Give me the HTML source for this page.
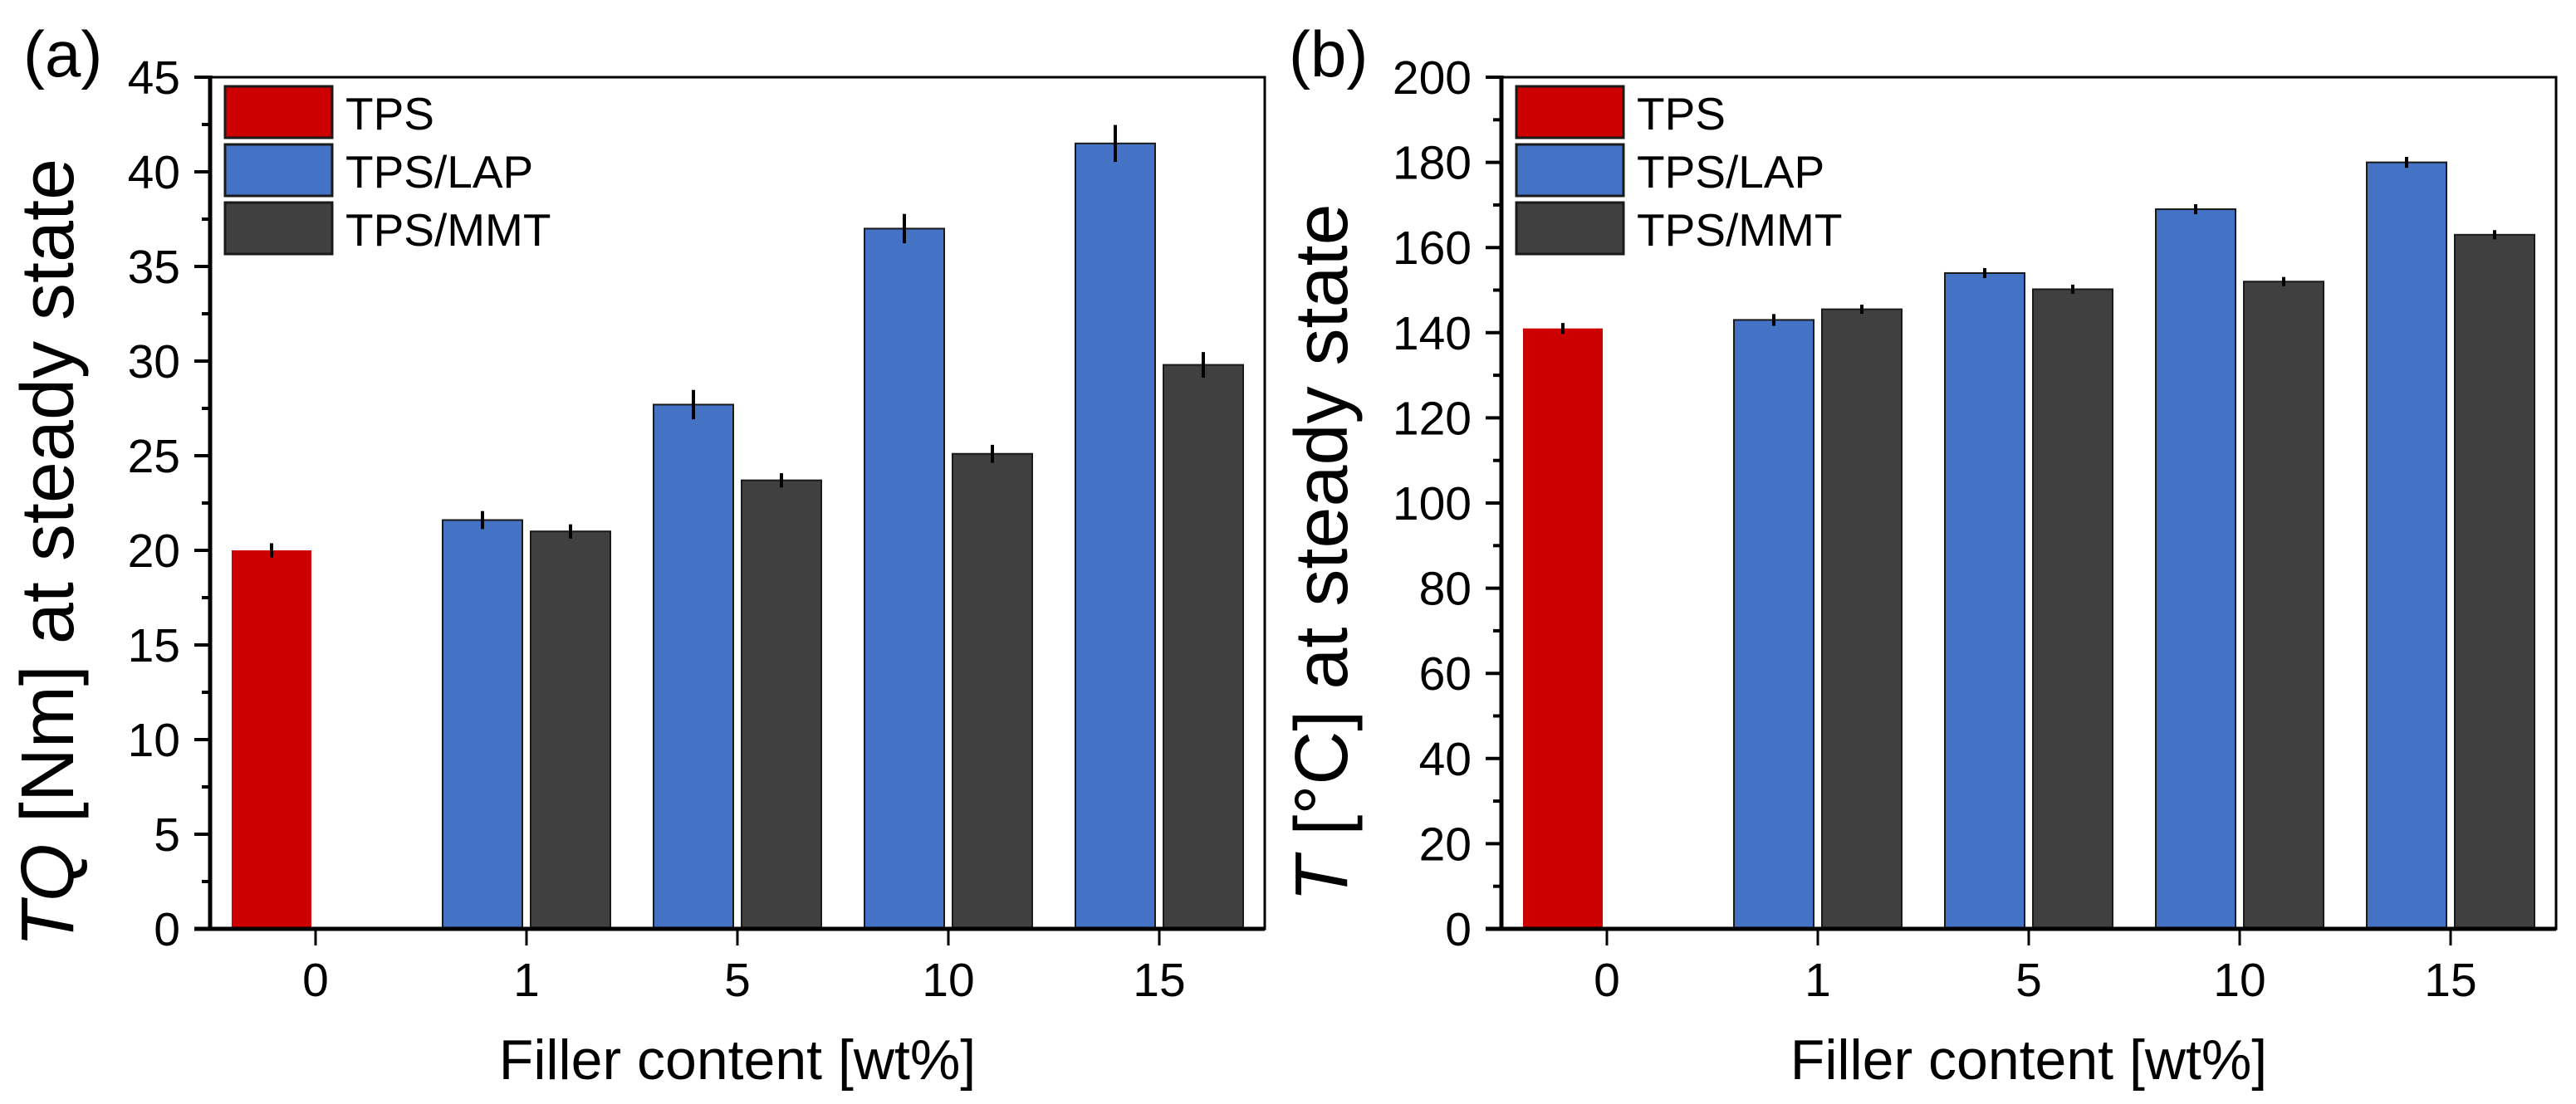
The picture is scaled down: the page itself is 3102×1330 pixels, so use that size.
<!DOCTYPE html>
<html><head><meta charset="utf-8"><style>
html,body{margin:0;padding:0;background:#fff;}
svg{display:block;font-family:"Liberation Sans",Arial,sans-serif;}
</style></head><body>
<svg id="fig" width="3102" height="1330" viewBox="0 0 3102 1330"></svg>
<script>
const categories = ["0","1","5","10","15"];
const tqTPS = [20.0, null, null, null, null];
const tqTPSerr = [0.2, 0, 0, 0, 0];
const tqLAP = [null, 21.6, 27.7, 37.0, 41.5];
const tqLAPerr = [0, 0.3, 0.6, 0.6, 0.8];
const tqMMT = [null, 21.0, 23.7, 25.1, 29.8];
const tqMMTerr = [0, 0.2, 0.2, 0.3, 0.5];
const tTPS = [141, null, null, null, null];
const tTPSerr = [0.5, 0, 0, 0, 0];
const tLAP = [null, 143, 154, 169, 180];
const tLAPerr = [0, 0.6, 0.4, 0.4, 0.5];
const tMMT = [null, 145.5, 150.2, 152, 163];
const tMMTerr = [0, 0.3, 0.3, 0.3, 0.3];
const tqTicks = [0,5,10,15,20,25,30,35,40,45];
const tTicks = [0,20,40,60,80,100,120,140,160,180,200];
const seriesNames = ["TPS","TPS/LAP","TPS/MMT"];

const NS="http://www.w3.org/2000/svg";
const svg=document.getElementById('fig');
function mk(tag,attrs,parent){const e=document.createElementNS(NS,tag);for(const k in attrs)e.setAttribute(k,attrs[k]);(parent||svg).appendChild(e);return e;}

function panel(cfg){
  const g=mk('g',{});
  
  
  const L=cfg.x0,R=cfg.x0+1270,T=93,B=1119;
  const ymax=cfg.ticks[cfg.ticks.length-1];
  const ys=v=>B-(v/ymax)*(B-T);
  const xs=i=>L+127+254*i;
  const series=[[cfg.tps,cfg.tpsErr,'#cc0000',-1],[cfg.lap,cfg.lapErr,'#4472c4',-1],[cfg.mmt,cfg.mmtErr,'#404040',1]];
  series.forEach((s,si)=>{
    s[0].forEach((v,i)=>{
      if(v==null)return;
      const x=s[3]<0?xs(i)-101:xs(i)+5;
      const r=mk('rect',{x:x,y:ys(v),width:96,height:B-ys(v),fill:s[2],stroke:si==0?'none':'#1a1a1a','stroke-width':2},g);
      
      
      const cx=x+48,e=s[1][i];
      const l=mk('line',{x1:cx,x2:cx,y1:ys(v+e)-4,y2:ys(v-e)+4,stroke:'#000','stroke-width':4},g);
      
      
    });
  });
  const f=mk('rect',{x:L,y:T,width:R-L,height:B-T,fill:'none',stroke:'#000','stroke-width':3},g);
  
  
  mk('line',{x1:L,x2:L,y1:T-2,y2:B+2,stroke:'#000','stroke-width':5},g);
  mk('line',{x1:L-19,x2:R,y1:B,y2:B,stroke:'#000','stroke-width':5},g);
  cfg.ticks.forEach((t,k)=>{
    const y=ys(t);
    mk('line',{x1:L-19,x2:L,y1:y,y2:y,stroke:'#000','stroke-width':4},g);
    const tx=mk('text',{x:L-36,y:y+20,'text-anchor':'end','font-size':57,fill:'#000'},g);
    tx.textContent=t;
    
    
    if(k<cfg.ticks.length-1){const ym=ys(t+(cfg.ticks[1]-cfg.ticks[0])/2);mk('line',{x1:L-10,x2:L,y1:ym,y2:ym,stroke:'#000','stroke-width':4},g);}
  });
  categories.forEach((c,i)=>{
    mk('line',{x1:xs(i),x2:xs(i),y1:B,y2:B+20,stroke:'#000','stroke-width':3},g);
    const tx=mk('text',{x:xs(i),y:1200,'text-anchor':'middle','font-size':57},g);
    tx.textContent=c;
    
    
  });
  const xt=mk('text',{x:(L+R)/2,y:1300,'text-anchor':'middle','font-size':68},g);
  xt.textContent='Filler content [wt%]';
  
  
  const yt=mk('text',{x:0,y:0,'text-anchor':'middle','font-size':90,transform:`translate(${cfg.ytx},${(T+B)/2+60}) rotate(-90)`},g);
  yt.innerHTML=cfg.ytitle;
  
  
  const pl=mk('text',{x:cfg.plx,y:92,'font-size':78},g);
  pl.textContent=cfg.label;
  
  
  const cols=['#cc0000','#4472c4','#404040'];
  seriesNames.forEach((n,k)=>{
    const lg=mk('g',{},g);
    
    
    mk('rect',{x:L+18,y:104+70*k,width:129,height:62,fill:cols[k],stroke:'#1a1a1a','stroke-width':3},lg);
    const t=mk('text',{x:L+163,y:156+70*k,'font-size':55},lg);
    t.textContent=n;
  });
}
panel({name:'panel-a-torque',x0:253,ticks:tqTicks,tps:tqTPS,tpsErr:tqTPSerr,lap:tqLAP,lapErr:tqLAPerr,mmt:tqMMT,mmtErr:tqMMTerr,
  ytitle:'<tspan font-style="italic">TQ</tspan> [Nm] at steady state',ytx:88,label:'(a)',plx:28});
panel({name:'panel-b-temperature',x0:1808,ticks:tTicks,tps:tTPS,tpsErr:tTPSerr,lap:tLAP,lapErr:tLAPerr,mmt:tMMT,mmtErr:tMMTerr,
  ytitle:'<tspan font-style="italic">T</tspan> [°C] at steady state',ytx:1622,label:'(b)',plx:1552});
</script>
</body></html>
